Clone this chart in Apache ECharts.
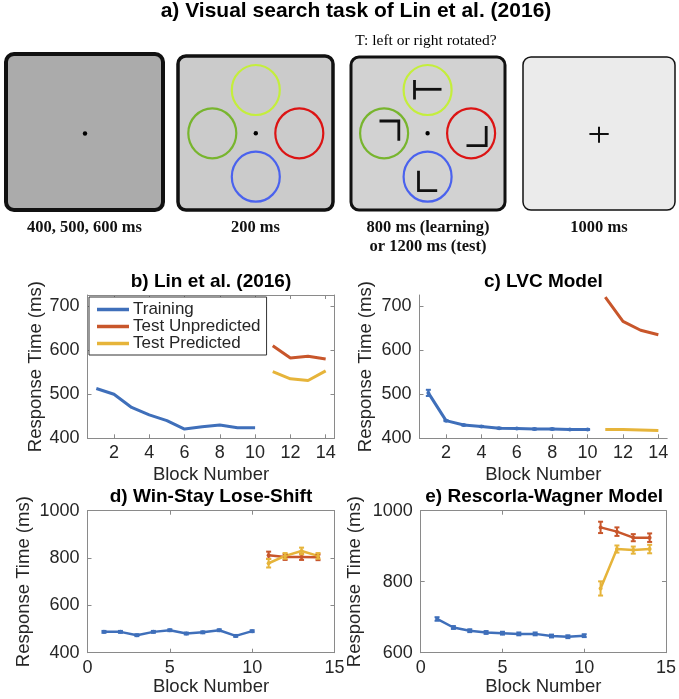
<!DOCTYPE html>
<html><head><meta charset="utf-8">
<script src="https://cdn.jsdelivr.net/npm/echarts@6/dist/echarts.min.js"></script>
<style>html,body{margin:0;padding:0;background:#fff}#c{width:679px;height:699px}</style>
</head><body><div id="c"></div>
<script>
// ---------- data ----------
const blocksTrain = [1, 2, 3, 4, 5, 6, 7, 8, 9, 10];
const blocksTest = [11, 12, 13, 14];
const seriesNames = ['Training', 'Test Unpredicted', 'Test Predicted'];

// b) Lin et al. (2016)
const linTrain = [513, 500, 470, 453, 440, 421, 426, 430, 424, 424];
const linUnpred = [610, 582, 586, 580];
const linPred = [551, 535, 531, 553];

// c) LVC Model
const lvcTrain = [503, 440, 430, 427, 423, 422, 421, 421, 420, 420];
const lvcTrainErr = [7, 1, 1, 1, 1, 1, 1, 1, 1, 1];
const lvcUnpred = [720, 665, 645, 635];
const lvcPred = [420, 420, 419, 417.5];

// d) Win-Stay Lose-Shift
const wslsTrain = [488, 488, 474, 488, 495, 481, 486, 495, 471, 491];
const wslsTrainErr = [4, 4, 4, 4, 4, 4, 4, 4, 4, 4];
const wslsUnpred = [812, 804, 804, 803];
const wslsUnpredErr = [15, 12, 12, 12];
const wslsPred = [778, 809, 830, 809];
const wslsPredErr = [18, 12, 14, 12];

// e) Rescorla-Wagner Model
const rwTrain = [695, 671, 662, 657, 655, 653, 653, 647, 645, 648];
const rwTrainErr = [5, 4, 4, 4, 4, 4, 4, 4, 4, 4];
const rwUnpred = [953, 941, 924, 924];
const rwUnpredErr = [16, 12, 10, 12];
const rwPred = [781, 892, 889, 892];
const rwPredErr = [20, 10, 10, 12];

// axis ticks / labels
const xTicksBC = [2, 4, 6, 8, 10, 12, 14];
const yTicksBC = [400, 500, 600, 700];
const panelTitles = ['b) Lin et al. (2016)', 'c) LVC Model', 'd) Win-Stay Lose-Shift', 'e) Rescorla-Wagner Model'];
const mainTitle = 'a) Visual search task of Lin et al. (2016)';
const questionText = 'T: left or right rotated?';
const stimLabels = ['400, 500, 600 ms', '200 ms', '800 ms (learning)\nor 1200 ms (test)', '1000 ms'];
const yName = 'Response Time (ms)';
const xName = 'Block Number';

// ---------- styling ----------
const C_BLUE = '#3F6FBA', C_ORANGE = '#C8562B', C_YELLOW = '#E6B43A';
const FONT = '"Liberation Sans", Arial, Helvetica, sans-serif';
const SERIF = '"Liberation Serif", "Times New Roman", serif';
const TXT = '#262626', AX = '#8a8a8a';

const grids = [
  {left: 87.5, top: 295, width: 247, height: 143.3},
  {left: 419.5, top: 295, width: 247.7, height: 143.3},
  {left: 87.5, top: 510.7, width: 247, height: 142},
  {left: 420.7, top: 510.7, width: 247, height: 142}
];
const boxed = [true, false, true, true];
const nameGaps = [41, 44, 54, 56];

const pairs = (xs, ys) => xs.map((x, i) => [x, ys[i]]);
const plain = v => String(v);

const xAxes = [], yAxes = [];
grids.forEach((g, i) => {
  const isBC = i < 2;
  const xBase = isBC ? {min: 0.5, max: 14.5} : {min: 0, max: 15, interval: 5};
  const yBase = isBC ? {min: 400, max: 725} : (i === 2 ? {min: 400, max: 1000, interval: 200} : {min: 600, max: 1000, interval: 200});
  const tickX = isBC ? {customValues: xTicksBC} : {};
  const tickY = isBC ? {customValues: yTicksBC} : {};
  xAxes.push(Object.assign({
    type: 'value', gridIndex: i, position: 'bottom',
    name: xName, nameLocation: 'middle', nameGap: i < 2 ? 27 : 25,
    nameTextStyle: {fontFamily: FONT, fontSize: 18.5, color: TXT},
    axisLine: {show: true, onZero: false, lineStyle: {color: AX, width: 1}},
    axisTick: Object.assign({show: true, inside: true, length: 4, lineStyle: {color: AX}}, tickX),
    axisLabel: Object.assign({show: true, margin: 6, fontFamily: FONT, fontSize: 18, color: TXT, formatter: plain}, tickX),
    splitLine: {show: false}
  }, xBase));
  xAxes.push(Object.assign({
    type: 'value', gridIndex: i, position: 'top', show: boxed[i],
    axisLine: {show: true, onZero: false, lineStyle: {color: AX, width: 1}},
    axisTick: Object.assign({show: true, inside: true, length: 4, lineStyle: {color: AX}}, tickX),
    axisLabel: {show: false}, splitLine: {show: false}
  }, xBase));
  yAxes.push(Object.assign({
    type: 'value', gridIndex: i, position: 'left',
    name: yName, nameLocation: 'middle', nameGap: nameGaps[i],
    nameTextStyle: {fontFamily: FONT, fontSize: 18.5, color: TXT},
    axisLine: {show: true, onZero: false, lineStyle: {color: AX, width: 1}},
    axisTick: Object.assign({show: true, inside: true, length: 4, lineStyle: {color: AX}}, tickY),
    axisLabel: Object.assign({show: true, margin: 8, fontFamily: FONT, fontSize: 18, color: TXT, formatter: plain}, tickY),
    splitLine: {show: false}
  }, yBase));
  yAxes.push(Object.assign({
    type: 'value', gridIndex: i, position: 'right', show: boxed[i],
    axisLine: {show: true, onZero: false, lineStyle: {color: AX, width: 1}},
    axisTick: Object.assign({show: true, inside: true, length: 4, lineStyle: {color: AX}}, tickY),
    axisLabel: {show: false}, splitLine: {show: false}
  }, yBase));
});

function lineSeries(name, xs, ys, gi, color, opts) {
  return Object.assign({
    type: 'line', name, xAxisIndex: gi * 2, yAxisIndex: gi * 2,
    data: pairs(xs, ys), color, showSymbol: false, symbol: 'none',
    lineStyle: {color, width: 3}, z: 2, animation: false
  }, opts || {});
}
function errSeries(name, xs, ys, errs, gi, color) {
  return {
    type: 'custom', name, xAxisIndex: gi * 2, yAxisIndex: gi * 2, silent: true, z: 3, animation: false,
    data: xs.map((x, i) => [x, ys[i] - errs[i], ys[i] + errs[i]]),
    renderItem(params, api) {
      const x = api.value(0);
      const lo = api.coord([x, api.value(1)]);
      const hi = api.coord([x, api.value(2)]);
      const mid = api.coord([x, (api.value(1) + api.value(2)) / 2]);
      const c = 2.5;
      const st = {stroke: color, lineWidth: 2};
      return {type: 'group', children: [
        {type: 'line', shape: {x1: lo[0], y1: lo[1], x2: hi[0], y2: hi[1]}, style: st},
        {type: 'line', shape: {x1: lo[0] - c, y1: lo[1], x2: lo[0] + c, y2: lo[1]}, style: st},
        {type: 'line', shape: {x1: hi[0] - c, y1: hi[1], x2: hi[0] + c, y2: hi[1]}, style: st},
        {type: 'circle', shape: {cx: mid[0], cy: mid[1], r: 2}, style: {fill: color}}
      ]};
    }
  };
}

const series = [
  // b
  lineSeries(seriesNames[0], blocksTrain, linTrain, 0, C_BLUE),
  lineSeries(seriesNames[1], blocksTest, linUnpred, 0, C_ORANGE),
  lineSeries(seriesNames[2], blocksTest, linPred, 0, C_YELLOW),
  // c
  lineSeries(seriesNames[0], blocksTrain, lvcTrain, 1, C_BLUE),
  errSeries(seriesNames[0], blocksTrain, lvcTrain, lvcTrainErr, 1, C_BLUE),
  lineSeries(seriesNames[1], blocksTest, lvcUnpred, 1, C_ORANGE),
  lineSeries(seriesNames[2], blocksTest, lvcPred, 1, C_YELLOW),
  // d
  lineSeries(seriesNames[0], blocksTrain, wslsTrain, 2, C_BLUE, {lineStyle: {color: C_BLUE, width: 2.5}}),
  errSeries(seriesNames[0], blocksTrain, wslsTrain, wslsTrainErr, 2, C_BLUE),
  lineSeries(seriesNames[1], blocksTest, wslsUnpred, 2, C_ORANGE, {lineStyle: {color: C_ORANGE, width: 2.5}}),
  errSeries(seriesNames[1], blocksTest, wslsUnpred, wslsUnpredErr, 2, C_ORANGE),
  lineSeries(seriesNames[2], blocksTest, wslsPred, 2, C_YELLOW, {lineStyle: {color: C_YELLOW, width: 2.5}}),
  errSeries(seriesNames[2], blocksTest, wslsPred, wslsPredErr, 2, C_YELLOW),
  // e
  lineSeries(seriesNames[0], blocksTrain, rwTrain, 3, C_BLUE, {lineStyle: {color: C_BLUE, width: 2.5}}),
  errSeries(seriesNames[0], blocksTrain, rwTrain, rwTrainErr, 3, C_BLUE),
  lineSeries(seriesNames[1], blocksTest, rwUnpred, 3, C_ORANGE, {lineStyle: {color: C_ORANGE, width: 2.5}}),
  errSeries(seriesNames[1], blocksTest, rwUnpred, rwUnpredErr, 3, C_ORANGE),
  lineSeries(seriesNames[2], blocksTest, rwPred, 3, C_YELLOW, {lineStyle: {color: C_YELLOW, width: 2.5}}),
  errSeries(seriesNames[2], blocksTest, rwPred, rwPredErr, 3, C_YELLOW)
];

const titles = panelTitles.map((t, i) => ({
  text: t, left: grids[i].left + grids[i].width / 2, textAlign: 'center',
  top: i < 2 ? 272 : 487, padding: 0,
  textStyle: {fontFamily: FONT, fontSize: 19, fontWeight: 'bold', color: '#000'}
}));

// ---------- panel a illustration ----------
const panels = [
  {x: 6, y: 54, w: 157, h: 156, fill: '#ababab', lw: 4},
  {x: 178, y: 56, w: 155, h: 154, fill: '#cbcbcb', lw: 3.5},
  {x: 351, y: 57, w: 154, h: 153, fill: '#d2d2d2', lw: 3},
  {x: 523, y: 57, w: 152, h: 153, fill: '#ebebeb', lw: 1.5}
];
const gfx = [];
gfx.push({type: 'text', x: 356, y: 1, style: {text: mainTitle, textAlign: 'center', fill: '#000', font: 'bold 21px ' + FONT}});
gfx.push({type: 'text', x: 426, y: 33, style: {text: questionText, textAlign: 'center', fill: '#000', font: '15.5px ' + SERIF}});
panels.forEach((p, i) => {
  gfx.push({type: 'rect', shape: {x: p.x, y: p.y, width: p.w, height: p.h, r: 8}, style: {fill: p.fill, stroke: '#111', lineWidth: p.lw}});
  gfx.push({type: 'text', x: p.x + p.w / 2, y: 218, style: {text: stimLabels[i], textAlign: 'center', fill: '#111', font: 'bold 16.5px ' + SERIF, lineHeight: 19}});
});
// fixation dots
[[85, 133.5], [255.8, 133.3], [427.6, 133.3]].forEach(([cx, cy]) => gfx.push({type: 'circle', shape: {cx, cy, r: 2.2}, style: {fill: '#000'}}));
// rings
const ringCols = ['#c4ee3c', '#78b52e', '#dc1414', '#4a62ee'];
[255.8, 427.6].forEach(cx0 => {
  const pos = [[cx0, 90], [cx0 - 43.5, 133.3], [cx0 + 43.5, 133.3], [cx0, 176.7]];
  pos.forEach(([cx, cy], k) => gfx.push({type: 'ellipse', shape: {cx, cy, rx: 24, ry: 25}, style: {fill: null, stroke: ringCols[k], lineWidth: 2.2}}));
});
// letter shapes in panel 3
const shapes = [
  [[414.5, 80], [414.5, 99.5]], [[414.5, 89.3], [441.5, 89.3]],
  [[379.5, 121], [398.8, 121], [398.8, 140.7]],
  [[486.2, 126], [486.2, 145.7], [466.5, 145.7]],
  [[418.5, 170.7], [418.5, 190.7], [437.2, 190.7]]
];
shapes.forEach(pts => gfx.push({type: 'polyline', shape: {points: pts}, style: {stroke: '#111', lineWidth: 2.8, fill: null}}));
// fixation cross in panel 4
gfx.push({type: 'polyline', shape: {points: [[589.4, 134], [608.7, 134]]}, style: {stroke: '#111', lineWidth: 2}});
gfx.push({type: 'polyline', shape: {points: [[599, 126.7], [599, 142.7]]}, style: {stroke: '#111', lineWidth: 2}});

const chart = echarts.init(document.getElementById('c'), null, {renderer: 'canvas'});
chart.setOption({
  backgroundColor: '#fff',
  animation: false,
  title: titles,
  grid: grids,
  xAxis: xAxes,
  yAxis: yAxes,
  legend: {
    data: seriesNames, orient: 'vertical', left: 89, top: 297,
    icon: 'rect', itemWidth: 32, itemHeight: 3.5, itemGap: 0,
    padding: [4, 6, 3, 8], borderColor: '#333', borderWidth: 1, backgroundColor: '#fff',
    textStyle: {fontFamily: FONT, fontSize: 17, color: TXT, lineHeight: 17, padding: [0, 0, 0, -1]},
    selectedMode: false
  },
  series,
  graphic: gfx
});
</script></body></html>
